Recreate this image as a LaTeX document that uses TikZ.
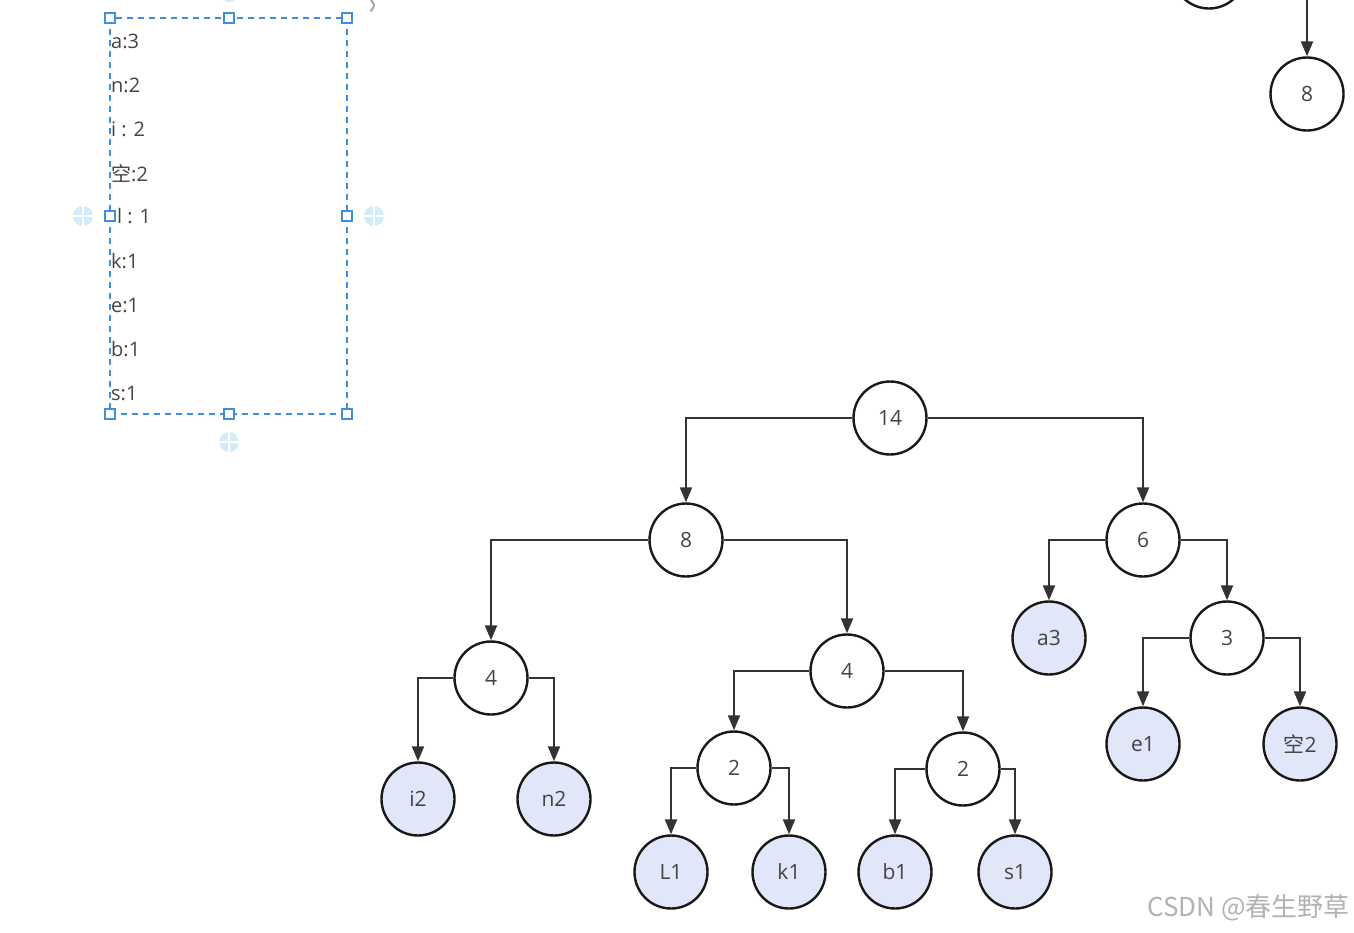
\documentclass[tikz,border=0pt]{standalone}
\usepackage{fontspec}
\setmainfont{Open Sans}
\newfontfamily\cjk{Noto Sans CJK SC}
\usetikzlibrary{arrows.meta}
\definecolor{txt}{HTML}{444444}
\definecolor{leaffill}{HTML}{E1E6F8}
\definecolor{selblue}{HTML}{3D8FDC}
\definecolor{plusblue}{HTML}{D2ECFA}
\tikzset{
  inner/.style={circle,draw=black!90,line width=2.4pt,minimum size=73pt,inner sep=0pt,fill=white,
    text=txt,font=\fontsize{21}{24}\selectfont},
  leaf/.style={inner,fill=leaffill},
  edge/.style={draw=black!80,line width=2.1pt,-{Triangle[length=15pt,width=12pt]}},
  handle/.style={rectangle,draw=selblue,line width=1.2pt,fill=white,minimum size=10pt,inner sep=0pt},
  plus/.style={circle,fill=plusblue,minimum size=20pt,inner sep=0pt},
  lbl/.style={anchor=west,text=txt,font=\fontsize{20}{24}\selectfont,inner sep=0pt},
}
\begin{document}
\begin{tikzpicture}[x=1pt,y=-1pt]
\useasboundingbox (0,0) rectangle (1354,932);
\clip (0,0) rectangle (1354,932);
\fill[white] (0,0) rectangle (1354,932);

% selection box with labels
\node[lbl] (l1) at (111,41) {a:3};
\node[lbl] (l2) at (111,85) {n:2};
\node[lbl] (l3) at (111,129) {i : 2};
\node[lbl] (l4) at (111,173) {{\cjk 空}:2};
\node[lbl] (l5) at (117,216) {l : 1};
\node[lbl] (l6) at (111,261) {k:1};
\node[lbl] (l7) at (111,305) {e:1};
\node[lbl] (l8) at (111,349) {b:1};
\node[lbl] (l9) at (111,393) {s:1};
\draw[selblue,line width=1.5pt,dash pattern=on 6pt off 5pt] (110,18) rectangle (347,414);
\node[plus] (p1) at (83,216) {};
\node[plus] (p2) at (374,216) {};
\node[plus] (p3) at (229,442) {};
\node[plus] (p4) at (229,-8) {};
\draw[white,line width=2.5pt] (p1.west) -- (p1.east) (p1.north) -- (p1.south);
\draw[white,line width=2.5pt] (p2.west) -- (p2.east) (p2.north) -- (p2.south);
\draw[white,line width=2.5pt] (p3.west) -- (p3.east) (p3.north) -- (p3.south);
\node[handle] (h1) at (110,18) {};
\node[handle] (h2) at (229,18) {};
\node[handle] (h3) at (347,18) {};
\node[handle] (h4) at (110,216) {};
\node[handle] (h5) at (347,216) {};
\node[handle] (h6) at (110,414) {};
\node[handle] (h7) at (229,414) {};
\node[handle] (h8) at (347,414) {};
\draw[gray!70,line width=2pt,line cap=round] (371,0) .. controls (375,5) .. (371,11);

% top-right fragment
\node[inner] (t0) at (1209,-28) {};
\coordinate (tin) at (1307,0);
\node[inner] (t8) at (1307,94) {8};
\draw[edge] (tin) -- (t8.north);

% main tree
\node[inner] (n14) at (890,418) {14};
\node[inner] (n8) at (686,540) {8};
\node[inner] (n6) at (1143,540) {6};
\node[inner] (n4a) at (491,678) {4};
\node[inner] (n4b) at (847,671) {4};
\node[leaf] (a3) at (1049,638) {a3};
\node[inner] (n3) at (1227,638) {3};
\node[leaf] (i2) at (418,799) {i2};
\node[leaf] (n2) at (554,799) {n2};
\node[inner] (n2a) at (734,768) {2};
\node[inner] (n2b) at (963,769) {2};
\node[leaf] (e1) at (1143,744) {e1};
\node[leaf] (k2) at (1300,744) {{\cjk 空}2};
\node[leaf] (L1) at (671,872) {L1};
\node[leaf] (k1) at (789,872) {k1};
\node[leaf] (b1) at (895,872) {b1};
\node[leaf] (s1) at (1015,872) {s1};

\draw[edge] (n14.west) -| (n8.north);
\draw[edge] (n14.east) -| (n6.north);
\draw[edge] (n8.west) -| (n4a.north);
\draw[edge] (n8.east) -| (n4b.north);
\draw[edge] (n6.west) -| (a3.north);
\draw[edge] (n6.east) -| (n3.north);
\draw[edge] (n4a.west) -| (i2.north);
\draw[edge] (n4a.east) -| (n2.north);
\draw[edge] (n4b.west) -| (n2a.north);
\draw[edge] (n4b.east) -| (n2b.north);
\draw[edge] (n3.west) -| (e1.north);
\draw[edge] (n3.east) -| (k2.north);
\draw[edge] (n2a.west) -| (L1.north);
\draw[edge] (n2a.east) -| (k1.north);
\draw[edge] (n2b.west) -| (b1.north);
\draw[edge] (n2b.east) -| (s1.north);

% watermark
\node[anchor=east,text=black!30,font=\cjk\fontsize{26}{28}\selectfont,inner sep=0pt] (wm) at (1350,908) {CSDN @春生野草};
\end{tikzpicture}
\end{document}
